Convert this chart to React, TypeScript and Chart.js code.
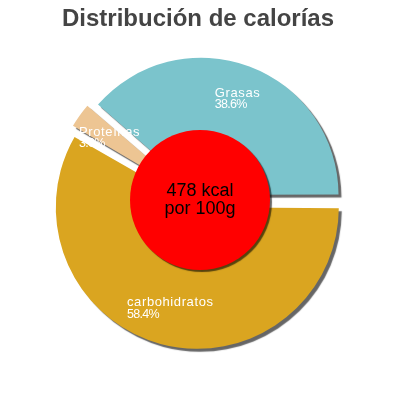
import { useEffect, useRef } from "react";
import { Chart, registerables } from "chart.js";

Chart.register(...registerables);

const categories = ["carbohidratos", "Proteínas", "Grasas"];
const percentages = [58.4, 3.0, 38.6];
const percentLabels = ["58.4%", "3.0%", "38.6%"];
const sliceColors = ["#daa520", "#edc593", "#7bc4cc"];
const titleText = "Distribución de calorías";
const centerLines = ["478 kcal", "por 100g"];

const FONT = "'Liberation Sans', Arial, Helvetica, sans-serif";

export default function App() {
  const ref = useRef<HTMLCanvasElement>(null);

  useEffect(() => {
    if (!ref.current) return;
    const OFFSET = 26;

    const decorPlugin = {
      id: "decor",
      beforeDatasetsDraw(chart: any) {
        const c = chart.ctx;
        c.save();
        c.shadowColor = "rgba(0,0,0,0.6)";
        c.shadowOffsetX = 3;
        c.shadowOffsetY = 3;
        c.shadowBlur = 1;
      },
      afterDatasetsDraw(chart: any) {
        const c = chart.ctx as CanvasRenderingContext2D;
        c.restore();
        const meta = chart.getDatasetMeta(0);
        const first = meta.data[0];
        const cx = first.x;
        const cy = first.y;

        // slice labels
        meta.data.forEach((arc: any, i: number) => {
          const mid = (arc.startAngle + arc.endAngle) / 2;
          const d = 110;
          const px = arc.x + Math.cos(mid) * d;
          const py = arc.y + Math.sin(mid) * d;
          c.save();
          c.fillStyle = "#ffffff";
          c.textAlign = "left";
          c.textBaseline = "alphabetic";
          c.font = `13px ${FONT}`;
          (c as any).letterSpacing = "0.6px";
          const w1 = c.measureText(categories[i]).width;
          const left = px - w1 / 2;
          c.fillText(categories[i], left, py - 1);
          c.font = `12.5px ${FONT}`;
          (c as any).letterSpacing = "-0.7px";
          c.fillText(percentLabels[i], left, py + 10.5);
          c.restore();
        });

        // red centre disc
        c.save();
        c.shadowColor = "rgba(0,0,0,0.6)";
        c.shadowOffsetX = 2;
        c.shadowOffsetY = 2;
        c.shadowBlur = 1;
        c.beginPath();
        c.arc(cx + 1, cy - 1, 70, 0, Math.PI * 2);
        c.fillStyle = "#ff0000";
        c.fill();
        c.restore();

        c.save();
        c.fillStyle = "#000000";
        c.textAlign = "center";
        c.textBaseline = "alphabetic";
        c.font = `18px ${FONT}`;
        c.fillText(centerLines[0], cx + 1, cy - 5);
        c.fillText(centerLines[1], cx + 1, cy + 13);
        c.restore();
      },
      afterDraw(chart: any) {
        const c = chart.ctx as CanvasRenderingContext2D;
        c.save();
        c.fillStyle = "#444444";
        c.textAlign = "center";
        c.textBaseline = "alphabetic";
        c.font = `bold 24px ${FONT}`;
        c.fillText(titleText, 198, 26);
        c.restore();
      },
    };

    const chart = new Chart(ref.current, {
      type: "doughnut",
      data: {
        labels: categories,
        datasets: [
          {
            data: percentages,
            backgroundColor: sliceColors,
            borderWidth: 0,
            offset: OFFSET,
            hoverOffset: 0,
          } as any,
        ],
      },
      options: {
        animation: false,
        responsive: false,
        events: [],
        rotation: 90,
        cutout: 50,
        radius: 135,
        layout: { padding: { top: 2, right: 2, left: 0, bottom: 0 } },
        plugins: {
          legend: { display: false },
          tooltip: { enabled: false },
          title: { display: false },
        },
      } as any,
      plugins: [decorPlugin],
    });

    return () => chart.destroy();
  }, []);

  return (
    <div style={{ position: "absolute", left: 0, top: 0, width: 400, height: 400, background: "#fff" }}>
      <canvas ref={ref} width={400} height={400} style={{ width: 400, height: 400, display: "block" }} />
    </div>
  );
}
